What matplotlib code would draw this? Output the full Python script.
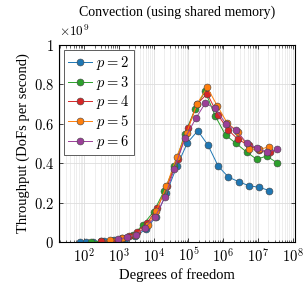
import numpy as np
import matplotlib
matplotlib.use('Agg')
import matplotlib.pyplot as plt
from matplotlib.ticker import LogLocator, FixedLocator, FixedFormatter, NullFormatter

plt.rcParams['font.family'] = ['Liberation Serif', 'DejaVu Serif']
plt.rcParams['mathtext.fontset'] = 'cm'

# Degrees of freedom and throughput (in 1e9 DoFs/s)
dofs_p2 = [7.4e1, 1.17e2, 1.86e2, 3.72e2, 7.41e2, 1.48e3, 2.95e3, 5.89e3, 1.175e4, 2.34e4,
           4.68e4, 9.33e4, 1.86e5, 3.63e5, 7.24e5, 1.41e6, 2.82e6, 5.5e6, 1.1e7, 2.14e7]
thr_p2 = [0.002, 0.003, 0.004, 0.006, 0.010, 0.017, 0.030, 0.065, 0.13, 0.25,
          0.385, 0.503, 0.564, 0.492, 0.384, 0.330, 0.306, 0.286, 0.278, 0.261]

dofs_p3 = [1.58e2, 3.16e2, 6.31e2, 1.26e3, 2.51e3, 5.01e3, 1.0e4, 2.0e4, 3.98e4, 7.94e4,
           1.55e5, 3.02e5, 5.89e5, 1.17e6, 2.34e6, 4.68e6, 9.12e6, 1.78e7, 3.55e7]
thr_p3 = [0.003, 0.005, 0.009, 0.018, 0.035, 0.09, 0.155, 0.259, 0.385, 0.55,
          0.673, 0.764, 0.639, 0.542, 0.500, 0.457, 0.420, 0.436, 0.402]

dofs_p4 = [3.16e2, 6.31e2, 1.2e3, 2.0e3, 3.24e3, 6.61e3, 1.29e4, 2.45e4, 4.9e4, 9.55e4,
           1.82e5, 3.47e5, 6.92e5, 1.41e6, 2.69e6, 5.37e6, 1.1e7, 2.19e7]
thr_p4 = [0.005, 0.009, 0.022, 0.033, 0.052, 0.099, 0.175, 0.284, 0.42, 0.576,
          0.70, 0.752, 0.646, 0.567, 0.520, 0.491, 0.466, 0.455]

dofs_p5 = [5.62e2, 1.2e3, 2.95e3, 6.76e3, 1.2e4, 2.34e4, 4.57e4, 8.91e4, 1.74e5, 3.47e5,
           6.76e5, 1.32e6, 2.69e6, 5.5e6, 1.1e7, 2.14e7]
thr_p5 = [0.012, 0.023, 0.037, 0.087, 0.16, 0.284, 0.432, 0.554, 0.698, 0.783,
          0.690, 0.602, 0.559, 0.471, 0.470, 0.483]

dofs_p6 = [9.33e2, 1.74e3, 3.02e3, 5.62e3, 1.1e4, 2.14e4, 3.89e4, 7.94e4, 1.62e5, 3.09e5,
           5.75e5, 1.2e6, 2.34e6, 4.68e6, 9.12e6, 1.78e7, 3.55e7]
thr_p6 = [0.015, 0.025, 0.037, 0.074, 0.127, 0.23, 0.37, 0.525, 0.626, 0.705,
          0.677, 0.600, 0.567, 0.503, 0.477, 0.455, 0.470]

series = [
    (2, dofs_p2, thr_p2, '#1f77b4'),
    (3, dofs_p3, thr_p3, '#2ca02c'),
    (4, dofs_p4, thr_p4, '#d62728'),
    (5, dofs_p5, thr_p5, '#ff7f0e'),
    (6, dofs_p6, thr_p6, '#9b3f98'),
]

fig = plt.figure(figsize=(3.05, 2.85), dpi=100)
ax = fig.add_axes([0.1934, 0.1498, 0.7738, 0.694])

for p, x, y, c in series:
    ax.plot(x, y, '-o', color=c, lw=0.7, ms=5, mfc=c, mec='#444444', mew=0.4,
            label=f'$p = {p}$')

ax.set_xscale('log')
ax.set_xlim(19, 1.16e8)
ax.set_ylim(0, 1)

ax.xaxis.set_major_locator(FixedLocator([1e2, 1e3, 1e4, 1e5, 1e6, 1e7, 1e8]))
ax.xaxis.set_major_formatter(FixedFormatter([f'$10^{k}$' for k in range(2, 9)]))
ax.xaxis.set_minor_locator(LogLocator(base=10, subs=np.arange(2, 10), numticks=20))
ax.xaxis.set_minor_formatter(NullFormatter())
yt = [0, 0.2, 0.4, 0.6, 0.8, 1.0]
ax.yaxis.set_major_locator(FixedLocator(yt))
ax.yaxis.set_major_formatter(FixedFormatter(['$0$', '$0.2$', '$0.4$', '$0.6$', '$0.8$', '$1$']))

ax.grid(True, which='major', color='#dddddd', lw=0.6)
ax.grid(True, which='minor', axis='x', color='#e8e8e8', lw=0.5)
ax.set_axisbelow(True)
ax.tick_params(which='both', direction='in', top=True, right=True, labelsize=10.5)
ax.tick_params(which='major', length=3, width=0.5)
ax.tick_params(which='minor', length=1.8, width=0.4)
for s in ax.spines.values():
    s.set_linewidth(0.8)

ax.text(0.0, 1.03, r'$\times 10^9$', transform=ax.transAxes, fontsize=9.5, ha='left', va='bottom')
ax.set_title('Convection (using shared memory)', fontsize=10, pad=21)
ax.set_xlabel('Degrees of freedom', fontsize=10.5, labelpad=2)
ax.set_ylabel('Throughput (DoFs per second)', fontsize=10.5, labelpad=3)

leg = ax.legend(loc='upper left', fontsize=10.5, frameon=True, fancybox=False,
                edgecolor='#444444', framealpha=1, borderpad=0.3, labelspacing=0.12,
                handlelength=1.6, handletextpad=0.3, borderaxespad=0.35)
leg.get_frame().set_linewidth(0.6)

fig.savefig('out.png', dpi=100)
